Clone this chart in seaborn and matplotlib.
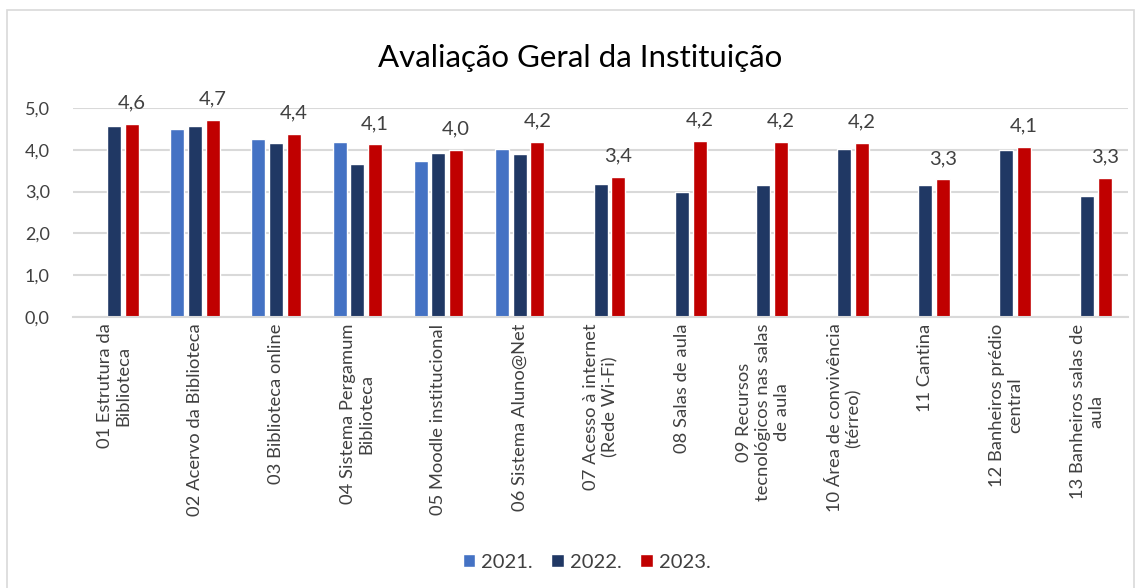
import pandas as pd
import numpy as np
import seaborn as sns
import matplotlib.pyplot as plt
from matplotlib.ticker import FuncFormatter
from matplotlib.patches import Rectangle

itens = ["01 Estrutura da\nBiblioteca", "02 Acervo da Biblioteca", "03 Biblioteca online",
         "04 Sistema Pergamum\nBiblioteca", "05 Moodle institucional", "06 Sistema Aluno@Net",
         "07 Acesso à internet\n(Rede Wi-Fi)", "08 Salas de aula",
         "09 Recursos\ntecnológicos nas salas\nde aula", "10 Área de convivência\n(térreo)",
         "11 Cantina", "12 Banheiros prédio\ncentral", "13 Banheiros salas de\naula"]
anos = ["2021.", "2022.", "2023."]
v2021 = [np.nan, 4.51, 4.25, 4.19, 3.73, 4.01, np.nan, np.nan, np.nan, np.nan, np.nan, np.nan, np.nan]
v2022 = [4.57, 4.57, 4.17, 3.65, 3.93, 3.91, 3.18, 3.00, 3.16, 4.01, 3.15, 4.00, 2.90]
v2023 = [4.63, 4.71, 4.39, 4.13, 3.99, 4.19, 3.35, 4.22, 4.19, 4.17, 3.29, 4.07, 3.33]
cores = ["#4472C4", "#203864", "#C00000"]

df = pd.concat([pd.DataFrame({"item": itens, "ano": a, "nota": v}) for a, v in zip(anos, [v2021, v2022, v2023])])
df = df.dropna()

sns.set_style("white")
plt.rcParams['font.family'] = ['Lato', 'DejaVu Sans']

fig = plt.figure(figsize=(11.41, 5.88), dpi=100)
ax = fig.add_axes([0.0643, 0.4615, 0.9243, 0.3545])

sns.barplot(data=df, x="item", y="nota", hue="ano", order=itens, hue_order=anos,
            palette=cores, width=0.655, gap=0.21, errorbar=None, saturation=1, ax=ax)

ax.set_ylim(0, 5)
ax.set_yticks(np.arange(0, 5.01, 1))
ax.yaxis.set_major_formatter(FuncFormatter(lambda v, p: f"{v:.1f}".replace(".", ",")))
ax.grid(axis="y", color="#D9D9D9", linewidth=1.5)
ax.set_axisbelow(True)
for s in ["top", "right", "left"]:
    ax.spines[s].set_visible(False)
ax.spines["bottom"].set_color("#D9D9D9")
ax.spines["bottom"].set_linewidth(1.5)
ax.tick_params(axis="both", length=0, labelsize=13, colors="#404040")
ax.tick_params(axis="y", pad=17)
ax.tick_params(axis="x", pad=5)
ax.set_xlabel("")
ax.set_ylabel("")
plt.xticks(rotation=90, ha="center", va="top", multialignment="center", fontsize=13.2)

rotulos = [f"{v:.1f}".replace(".", ",") for v in v2023]
ax.bar_label(ax.containers[2], labels=rotulos, padding=9, fontsize=14.5, color="#404040")

sns.move_legend(ax, "center", bbox_to_anchor=(0.514, 0.044), bbox_transform=fig.transFigure,
                ncol=3, frameon=False, title=None, fontsize=14.5, handlelength=0.6, handleheight=0.6,
                columnspacing=0.95, handletextpad=0.3)
for t in ax.get_legend().get_texts():
    t.set_color("#404040")

fig.text(0.508, 0.902, "Avaliação Geral da Instituição", ha="center", va="center", fontsize=22.5, color="#000000")
fig.patches.append(Rectangle((0.0065, -0.01), 0.987, 0.993, transform=fig.transFigure,
                             fill=False, edgecolor="#D9D9D9", linewidth=1.2))

plt.savefig("out.png", dpi=100)
plt.close()
